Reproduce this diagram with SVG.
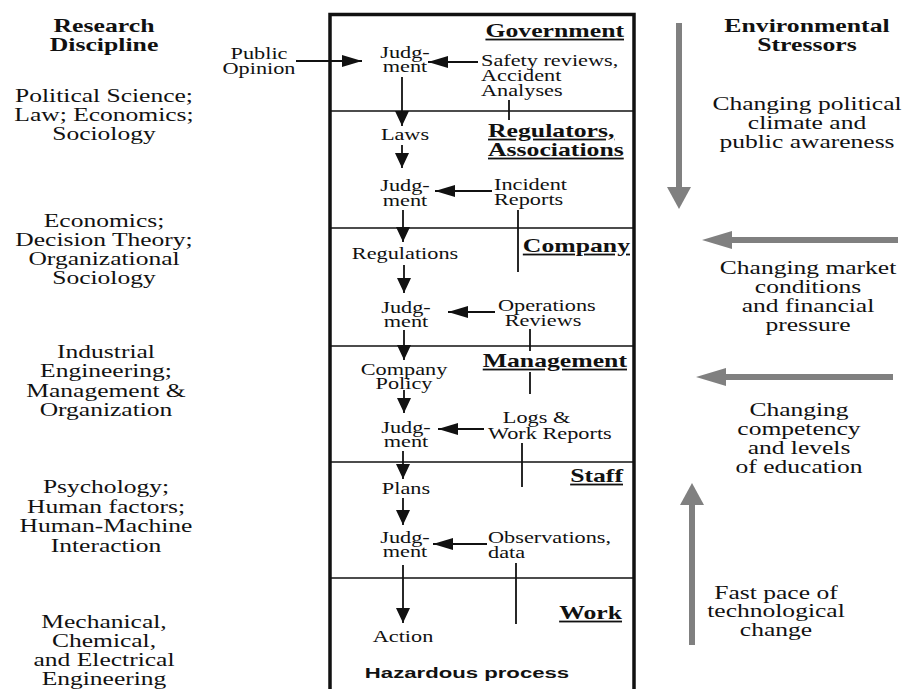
<svg xmlns="http://www.w3.org/2000/svg" width="910" height="689" viewBox="0 0 910 689">
<style>
text{font-family:"Liberation Serif","Times New Roman",serif;fill:#111}
.bx{font-size:16.5px}
.sd{font-size:18.5px;text-anchor:middle}
.hd{font-size:18px;font-weight:bold;text-decoration:underline}
.sh{font-size:18px;font-weight:bold;text-anchor:middle}
.m{text-anchor:middle}
.e{text-anchor:end}
.ln{stroke:#111;stroke-width:1.8;fill:none}
.ar{stroke:#111;stroke-width:1.8;fill:none;marker-end:url(#ah)}
.arh{stroke:#111;stroke-width:1.8;fill:none;marker-end:url(#ahh)}
.gr{stroke:#808080;stroke-width:6;fill:none}
.gh{fill:#808080}
.dv{stroke:#111;stroke-width:1.5}
</style>
<defs>
<marker id="ah" markerUnits="userSpaceOnUse" markerWidth="15" markerHeight="14" refX="15" refY="7" orient="auto"><path d="M0,0 L15,7 L0,14 z" fill="#111"/></marker>
<marker id="ahh" markerUnits="userSpaceOnUse" markerWidth="20" markerHeight="12" refX="20" refY="6" orient="auto"><path d="M0,0 L20,6 L0,12 z" fill="#111"/></marker>
</defs>
<rect width="910" height="689" fill="#fff"/>

<g id="frame">
<rect x="330" y="14.5" width="304" height="700" fill="none" stroke="#111" stroke-width="3.5"/>
<line class="dv" x1="330" y1="111" x2="634" y2="111"/>
<line class="dv" x1="330" y1="228" x2="634" y2="228"/>
<line class="dv" x1="330" y1="346" x2="634" y2="346"/>
<line class="dv" x1="330" y1="462" x2="634" y2="462"/>
<line class="dv" x1="330" y1="578" x2="634" y2="578"/>
</g>

<g id="column-headers">
<text class="sh" transform="matrix(1.43 0 0 1 104 32)"><tspan x="0">Research</tspan><tspan x="0" dy="19">Discipline</tspan></text>
<text class="sh" transform="matrix(1.43 0 0 1 807 32)"><tspan x="0">Environmental</tspan><tspan x="0" dy="19">Stressors</tspan></text>
</g>

<g id="disciplines">
<text class="sd" transform="matrix(1.38 0 0 1 104 102)"><tspan x="0">Political Science;</tspan><tspan x="0" dy="19">Law; Economics;</tspan><tspan x="0" dy="19">Sociology</tspan></text>
<text class="sd" transform="matrix(1.38 0 0 1 104 227)"><tspan x="0">Economics;</tspan><tspan x="0" dy="19">Decision Theory;</tspan><tspan x="0" dy="19">Organizational</tspan><tspan x="0" dy="19">Sociology</tspan></text>
<text class="sd" transform="matrix(1.38 0 0 1 106 358)"><tspan x="0">Industrial</tspan><tspan x="0" dy="19.5">Engineering;</tspan><tspan x="0" dy="19.5">Management &amp;</tspan><tspan x="0" dy="19.5">Organization</tspan></text>
<text class="sd" transform="matrix(1.38 0 0 1 106 493)"><tspan x="0">Psychology;</tspan><tspan x="0" dy="19.7">Human factors;</tspan><tspan x="0" dy="19.7">Human-Machine</tspan><tspan x="0" dy="19.7">Interaction</tspan></text>
<text class="sd" transform="matrix(1.38 0 0 1 104 628)"><tspan x="0">Mechanical,</tspan><tspan x="0" dy="19">Chemical,</tspan><tspan x="0" dy="19">and Electrical</tspan><tspan x="0" dy="19">Engineering</tspan></text>
</g>

<g id="stressors">
<text class="sd" transform="matrix(1.38 0 0 1 807 110)"><tspan x="0">Changing political</tspan><tspan x="0" dy="19">climate and</tspan><tspan x="0" dy="19">public awareness</tspan></text>
<text class="sd" transform="matrix(1.38 0 0 1 808 274)"><tspan x="0">Changing market</tspan><tspan x="0" dy="19">conditions</tspan><tspan x="0" dy="19">and financial</tspan><tspan x="0" dy="19">pressure</tspan></text>
<text class="sd" transform="matrix(1.38 0 0 1 799 416)"><tspan x="0">Changing</tspan><tspan x="0" dy="19">competency</tspan><tspan x="0" dy="19">and levels</tspan><tspan x="0" dy="19">of education</tspan></text>
<text class="sd" transform="matrix(1.38 0 0 1 776 599)"><tspan x="0">Fast pace of</tspan><tspan x="0" dy="18.5">technological</tspan><tspan x="0" dy="18.5">change</tspan></text>
</g>

<g id="stressor-arrows">
<line class="gr" x1="679" y1="23" x2="679" y2="188"/>
<polygon class="gh" points="667,187 691,187 679,209"/>
<line class="gr" x1="898" y1="240" x2="730" y2="240"/>
<polygon class="gh" points="732,231 732,249 702,240"/>
<line class="gr" x1="893" y1="377" x2="724" y2="377"/>
<polygon class="gh" points="726,368 726,386 696,377"/>
<line class="gr" x1="692" y1="645" x2="692" y2="503"/>
<polygon class="gh" points="680,505 704,505 692,483"/>
</g>

<g id="level-titles">
<text class="hd e" transform="matrix(1.43 0 0 1 624 37)">Government</text>
<text class="hd" transform="matrix(1.43 0 0 1 488 137)"><tspan x="0">Regulators,</tspan><tspan x="0" dy="19">Associations</tspan></text>
<text class="hd e" transform="matrix(1.43 0 0 1 630 252)">Company</text>
<text class="hd e" transform="matrix(1.43 0 0 1 627 367)">Management</text>
<text class="hd e" transform="matrix(1.43 0 0 1 623 482)">Staff</text>
<text class="hd e" transform="matrix(1.43 0 0 1 622 619)">Work</text>
</g>

<g id="public-opinion"><text class="bx m" transform="matrix(1.35 0 0 1 259 59)"><tspan x="0">Public</tspan><tspan x="0" dy="15">Opinion</tspan></text></g>
<g id="judgment-1"><text class="bx m" transform="matrix(1.35 0 0 1 405 58)"><tspan x="0">Judg-</tspan><tspan x="0" dy="14">ment</tspan></text></g>
<g id="safety-reviews"><text class="bx" transform="matrix(1.35 0 0 1 481 66)"><tspan x="0">Safety reviews,</tspan><tspan x="0" dy="15">Accident</tspan><tspan x="0" dy="15">Analyses</tspan></text></g>
<g id="laws"><text class="bx m" transform="matrix(1.35 0 0 1 405 140)">Laws</text></g>
<g id="judgment-2"><text class="bx m" transform="matrix(1.35 0 0 1 405 191)"><tspan x="0">Judg-</tspan><tspan x="0" dy="15">ment</tspan></text></g>
<g id="incident-reports"><text class="bx" transform="matrix(1.35 0 0 1 494 190)"><tspan x="0">Incident</tspan><tspan x="0" dy="15">Reports</tspan></text></g>
<g id="regulations"><text class="bx m" transform="matrix(1.35 0 0 1 405 259)">Regulations</text></g>
<g id="judgment-3"><text class="bx m" transform="matrix(1.35 0 0 1 406 313)"><tspan x="0">Judg-</tspan><tspan x="0" dy="14">ment</tspan></text></g>
<g id="operations-reviews"><text class="bx" transform="matrix(1.35 0 0 1 498 311)"><tspan x="0">Operations</tspan><tspan x="5" dy="15">Reviews</tspan></text></g>
<g id="company-policy"><text class="bx m" transform="matrix(1.35 0 0 1 404 375)"><tspan x="0">Company</tspan><tspan x="0" dy="14.5">Policy</tspan></text></g>
<g id="judgment-4"><text class="bx m" transform="matrix(1.35 0 0 1 406 433)"><tspan x="0">Judg-</tspan><tspan x="0" dy="14">ment</tspan></text></g>
<g id="logs-work-reports"><text class="bx" transform="matrix(1.35 0 0 1 488 423)"><tspan x="11">Logs &amp;</tspan><tspan x="0" dy="16">Work Reports</tspan></text></g>
<g id="plans"><text class="bx m" transform="matrix(1.35 0 0 1 406 494)">Plans</text></g>
<g id="judgment-5"><text class="bx m" transform="matrix(1.35 0 0 1 405 543)"><tspan x="0">Judg-</tspan><tspan x="0" dy="14.5">ment</tspan></text></g>
<g id="observations"><text class="bx" transform="matrix(1.35 0 0 1 488 543)"><tspan x="0">Observations,</tspan><tspan x="0" dy="15">data</tspan></text></g>
<g id="action"><text class="bx m" transform="matrix(1.35 0 0 1 403 642)">Action</text></g>
<g id="hazardous-process"><text transform="matrix(1.43 0 0 1 467 678)" style="font-family:'Liberation Sans',Arial,sans-serif;font-size:15.5px;font-weight:bold;text-anchor:middle">Hazardous process</text></g>

<g id="connectors">
<line class="arh" x1="296" y1="61" x2="362" y2="61"/>
<line class="arh" x1="478" y1="62" x2="428" y2="62"/>
<line class="arh" x1="492" y1="191" x2="435" y2="191"/>
<line class="arh" x1="495" y1="312" x2="448" y2="312"/>
<line class="arh" x1="484" y1="429" x2="438" y2="429"/>
<line class="arh" x1="487" y1="544" x2="433" y2="544"/>
<line class="ar" x1="402" y1="77" x2="402" y2="126"/>
<line class="ar" x1="402" y1="145" x2="402" y2="168"/>
<line class="ar" x1="403" y1="210" x2="403" y2="242"/>
<line class="ar" x1="404" y1="265" x2="404" y2="293"/>
<line class="ar" x1="404" y1="330" x2="404" y2="360"/>
<line class="ar" x1="404" y1="390" x2="404" y2="413"/>
<line class="ar" x1="403" y1="451" x2="403" y2="479"/>
<line class="ar" x1="403" y1="498" x2="403" y2="525"/>
<line class="ar" x1="403" y1="565" x2="403" y2="623"/>
<line class="ln" x1="509" y1="100" x2="509" y2="120"/>
<line class="ln" x1="518" y1="210" x2="518" y2="272"/>
<line class="ln" x1="530" y1="329" x2="530" y2="351"/>
<line class="ln" x1="530" y1="372" x2="530" y2="394"/>
<line class="ln" x1="522" y1="443" x2="522" y2="487"/>
<line class="ln" x1="516" y1="563" x2="516" y2="624"/>
</g>
</svg>
